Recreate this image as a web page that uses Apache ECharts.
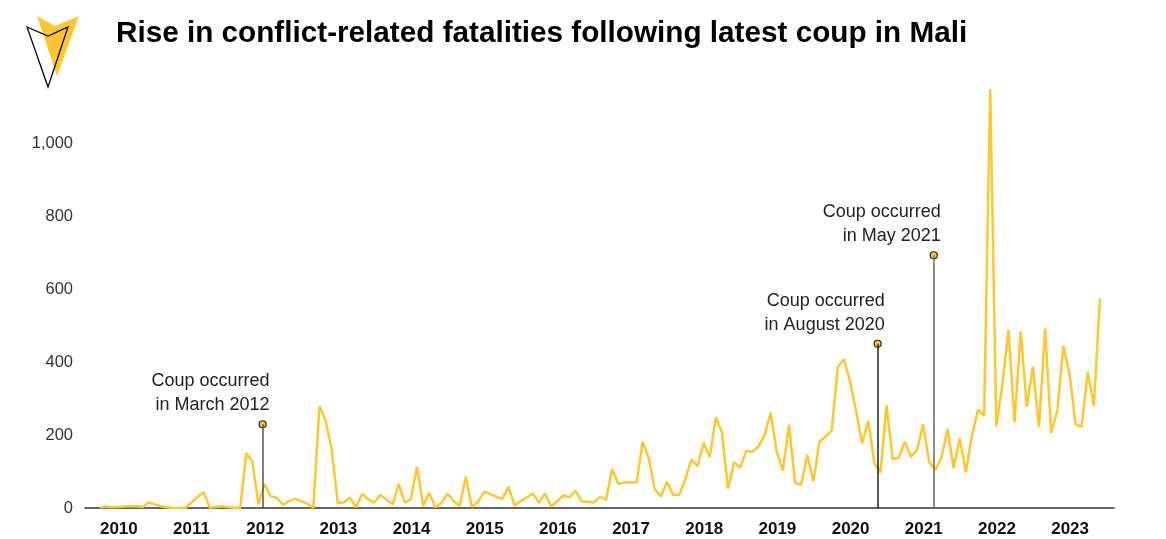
<!DOCTYPE html>
<html>
<head>
<meta charset="utf-8">
<script src="https://cdn.jsdelivr.net/npm/echarts@6/dist/echarts.min.js"></script>
<style>
  html, body { margin: 0; padding: 0; background: #fff; }
  #chart { width: 1166px; height: 539px; }
</style>
</head>
<body>
<div id="chart"></div>
<script>
// =====================
// data
// =====================

const titleText = "Rise in conflict-related fatalities following latest coup in Mali";

const firstYear = 2010;

const yearLabels = [2010, 2011, 2012, 2013, 2014, 2015, 2016, 2017, 2018, 2019, 2020, 2021, 2022, 2023];

const yTicks = [0, 200, 400, 600, 800, 1000];

// monthly fatalities, Jan 2010 - Sep 2023
const fatalities = [
  1, 4, 2, 3, 4, 5, 5, 3, 15, 10, 5, 2,
  0, 0, 0, 15, 30, 44, 1, 3, 5, 2, 1, 1,
  151, 128, 10, 66, 32, 28, 9, 19, 26, 18, 12, 1,
  280, 240, 162, 14, 16, 28, 2, 39, 24, 15, 36, 23,
  10, 66, 15, 24, 113, 5, 42, 2, 14, 39, 19, 6,
  86, 3, 17, 45, 38, 31, 25, 58, 7, 19, 29, 40,
  14, 40, 4, 19, 35, 29, 47, 18, 17, 15, 31, 22,
  107, 66, 70, 70, 70, 182, 137, 51, 32, 72, 36, 36,
  79, 133, 115, 179, 139, 249, 208, 52, 126, 111, 157, 154,
  169, 200, 262, 153, 103, 229, 69, 64, 146, 73, 182, 196,
  213, 387, 408, 349, 267, 178, 240, 123, 97, 282, 134, 138,
  182, 141, 159, 230, 126, 105, 137, 217, 109, 191, 98, 199,
  270, 254, 1150, 224, 340, 489, 235, 485, 278, 388, 223, 493,
  206, 267, 445, 369, 230, 223, 373, 280, 576,
];

// coup dates as [year, month, day]
const coupDates = [[2012, 3, 22], [2020, 8, 18], [2021, 5, 24]];
const coupValues = [230, 451, 694];
const coupLabels = ["Coup occurred\nin March 2012", "Coup occurred\nin August 2020", "Coup occurred\nin May 2021"];
const coupLineColors = ["#555", "#222", "#666"];

// =====================
// build
// =====================

// x axis counts months from Jan of firstYear
function monthPos(y, m, d) {
  const days = new Date(y, m, 0).getDate();
  return (y - firstYear) * 12 + (m - 1) + (d - 1) / days;
}

const lineData = fatalities.map((v, i) => [i, v]);

const yearTicks = yearLabels.map((y) => (y - firstYear) * 12);

const coupX = coupDates.map((d) => monthPos(d[0], d[1], d[2]));

const coupPoints = coupX.map((x, i) => ({
  value: [x, coupValues[i]],
  label: { formatter: coupLabels[i] },
}));

const coupLines = coupX.map((x, i) => [
  { coord: [x, 0], lineStyle: { color: coupLineColors[i] } },
  { coord: [x, coupValues[i]] },
]);

const yellow = "#FFC72C";

const chart = echarts.init(document.getElementById("chart"));

chart.setOption({
  animation: false,

  title: {
    text: titleText,
    left: 111,
    top: 14,
    textStyle: {
      fontFamily: "Liberation Sans",
      fontWeight: "bold",
      fontSize: 29.7,
      color: "#000",
    },
  },

  graphic: [
    {
      type: "polygon",
      shape: { points: [[37, 16], [55, 26], [79, 16], [57, 76]] },
      style: { fill: yellow },
    },
    {
      type: "polygon",
      shape: { points: [[27, 27], [48, 36], [68, 27], [48, 87]] },
      style: { fill: "none", stroke: "#000", lineWidth: 1.3 },
    },
  ],

  grid: {
    left: 85,
    right: 52,
    top: 71,
    bottom: 31,
  },

  xAxis: {
    type: "value",
    min: -2.45,
    max: 166.3,
    axisLine: { lineStyle: { color: "#333", width: 1.5 } },
    axisTick: { show: false },
    splitLine: { show: false },
    axisLabel: {
      customValues: yearTicks,
      formatter: (v) => String(firstYear + Math.round(v / 12)),
      align: "left",
      margin: 13,
      fontFamily: "Liberation Sans",
      fontWeight: "bold",
      fontSize: 17,
      color: "#111",
    },
  },

  yAxis: {
    type: "value",
    min: 0,
    max: 1200,
    interval: 200,
    axisLine: { show: false },
    axisTick: { show: false },
    splitLine: { show: false },
    axisLabel: {
      margin: 12,
      fontFamily: "Liberation Sans",
      fontSize: 16.5,
      color: "#333",
      formatter: (v) => (yTicks.includes(v) ? v.toLocaleString("en-US") : ""),
    },
  },

  series: [
    {
      type: "line",
      data: lineData,
      showSymbol: false,
      lineStyle: { color: yellow, width: 2.5 },
      z: 2,
    },
    {
      type: "scatter",
      data: coupPoints,
      symbol: "circle",
      symbolSize: 7,
      itemStyle: { color: yellow, borderColor: "#222", borderWidth: 1.2, opacity: 1 },
      label: {
        show: true,
        position: "top",
        align: "right",
        offset: [7, 2],
        fontFamily: "Liberation Sans",
        fontSize: 18,
        lineHeight: 24,
        color: "#222",
      },
      markLine: {
        silent: true,
        symbol: ["none", "none"],
        label: { show: false },
        lineStyle: { type: "solid", width: 1.5 },
        data: coupLines,
      },
      z: 3,
    },
  ],
});
</script>
</body>
</html>
